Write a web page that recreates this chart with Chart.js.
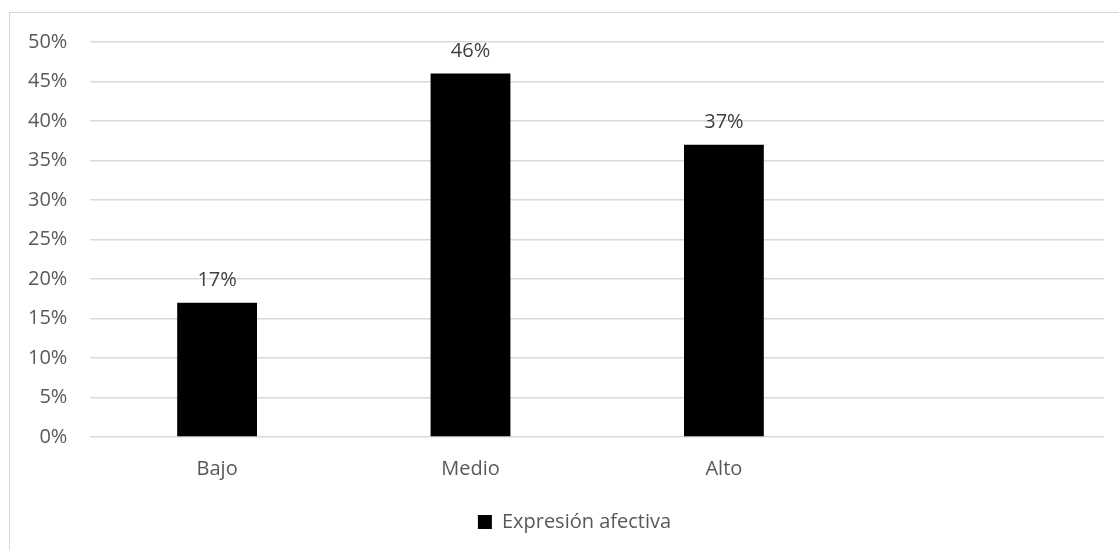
<!DOCTYPE html>
<html>
<head>
<meta charset="utf-8">
<script src="https://cdn.jsdelivr.net/npm/chart.js@4"></script>
<style>
  html, body { margin: 0; padding: 0; background: #ffffff; overflow: hidden; }
  #wrap { position: relative; width: 1119px; height: 550px; }
  #frame { position: absolute; left: 9px; top: 12px; width: 1200px; height: 600px; border: 1px solid #d6d6d6; box-sizing: border-box; }
  canvas { position: absolute; left: 0; top: 0; }
</style>
</head>
<body>
<div id="wrap">
  <div id="frame"></div>
  <canvas id="c" width="1119" height="550"></canvas>
</div>
<script>
const categories = ['Bajo', 'Medio', 'Alto', ''];
const seriesName = 'Expresión afectiva';
const values = [17, 46, 37, null];
const yTicks = [0, 5, 10, 15, 20, 25, 30, 35, 40, 45, 50];

const FONT = "'Open Sans', 'DejaVu Sans', sans-serif";

const valueLabels = {
  id: 'valueLabels',
  afterDatasetsDraw(chart) {
    const ctx = chart.ctx;
    ctx.save();
    ctx.font = '20px ' + FONT;
    ctx.fillStyle = '#404040';
    ctx.textAlign = 'center';
    ctx.textBaseline = 'middle';
    chart.data.datasets.forEach((ds, di) => {
      const meta = chart.getDatasetMeta(di);
      meta.data.forEach((el, i) => {
        const v = ds.data[i];
        if (v === null || v === undefined) return;
        ctx.fillText(v + '%', el.x, el.y - 22);
      });
    });
    ctx.restore();
  }
};

const shiftLegend = {
  id: 'shiftLegend',
  afterLayout(chart) {
    if (chart.legend) {
      chart.legend.left += 20;
      chart.legend.right += 20;
    }
  }
};

new Chart(document.getElementById('c'), {
  type: 'bar',
  data: {
    labels: categories,
    datasets: [{
      label: seriesName,
      data: values,
      backgroundColor: '#000000',
      borderWidth: 0,
      categoryPercentage: 0.63,
      barPercentage: 0.5
    }]
  },
  options: {
    responsive: false,
    animation: false,
    devicePixelRatio: 1,
    layout: { padding: { left: 5, right: 15, top: 42, bottom: 8 } },
    plugins: {
      tooltip: { enabled: false },
      legend: {
        position: 'bottom',
        labels: {
          boxWidth: 14,
          boxHeight: 14,
          padding: 11,
          color: '#595959',
          font: { family: FONT, size: 20 }
        }
      }
    },
    scales: {
      x: {
        grid: { display: false, drawTicks: false },
        border: { display: false },
        ticks: { color: '#595959', padding: 20, font: { family: FONT, size: 20 } }
      },
      y: {
        min: 0,
        max: 50,
        afterBuildTicks(axis) { axis.ticks = yTicks.map(v => ({ value: v })); },
        grid: { color: '#d9d9d9', lineWidth: 1.5, drawTicks: false },
        border: { display: false },
        ticks: {
          color: '#595959',
          padding: 23,
          font: { family: FONT, size: 20 },
          callback: v => v + '%'
        }
      }
    }
  },
  plugins: [valueLabels, shiftLegend]
});
</script>
</body>
</html>
